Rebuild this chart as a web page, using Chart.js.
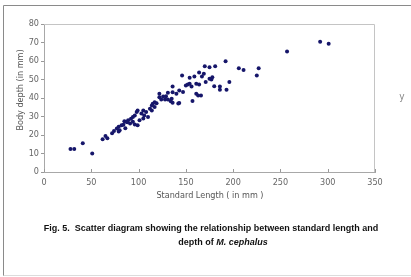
<!DOCTYPE html>
<html>
<head>
<meta charset="utf-8">
<script src="https://cdn.jsdelivr.net/npm/chart.js@4/dist/chart.umd.min.js"></script>
<style>
  html, body { margin: 0; padding: 0; background: #fff; }
  #wrap { position: relative; width: 411px; height: 277px; }
</style>
</head>
<body>
<div id="wrap"><canvas id="fishChart"></canvas></div>
<script>
// standard length (mm) and body depth (mm)
const lengthMm = [28, 32, 41, 51, 62, 65, 67, 72, 74, 79, 79, 84, 86, 88, 77, 80, 82, 85, 87, 89,
  91, 92, 94, 94, 96, 96, 98, 99, 99, 101, 103, 105, 105, 106, 108, 110, 112, 114, 114, 115,
  117, 117, 119, 122, 122, 124, 126, 128, 129, 131, 131, 134, 135, 136, 136, 136, 140, 142, 143, 143,
  146, 147, 150, 152, 154, 154, 156, 157, 159, 161, 161, 163, 164, 164, 166, 167, 169, 170, 175, 175,
  177, 178, 171, 180, 181, 186, 186, 192, 193, 196, 206, 211, 225, 227, 257, 292, 301];
const depthMm = [12.5, 12.5, 15.5, 10, 17.7, 19.4, 18.3, 20.9, 22.2, 21.9, 24.4, 25.5, 23.7, 26.9, 23.5, 22.6, 25.3, 27.4, 27.1, 28,
  26.2, 28.8, 27.1, 29.7, 30.6, 25.7, 32.4, 33.3, 25.3, 28, 31.6, 33.3, 28.9, 30.6, 32.4, 29.7, 34.2, 36, 33.3, 36.9,
  37.7, 35.1, 37.2, 40.4, 42.3, 39.2, 40.8, 39.2, 41, 42.8, 39.2, 38.3, 39.6, 46.2, 43.1, 37.5, 42.3, 37, 44.1, 37.3,
  52.1, 43.2, 46.8, 47.3, 50.9, 47.7, 46.2, 38.4, 51.6, 47.7, 42.3, 41.4, 53.8, 47.3, 41.4, 51.6, 53.1, 57.1, 56.6, 50.4,
  50, 51.2, 48.6, 46.4, 57.1, 46.2, 44.5, 59.9, 44.5, 48.6, 56.1, 55.2, 52.1, 56.1, 65.2, 70.4, 69.3];

const xTicks = [0, 50, 100, 150, 200, 250, 300, 350];
const yTicks = [0, 10, 20, 30, 40, 50, 60, 70, 80];

const captionLine1 = 'Fig. 5.  Scatter diagram showing the relationship between standard length and';
const captionLine2a = 'depth of ';
const captionLine2b = 'M. cephalus';

const points = lengthMm.map((x, i) => ({ x: x, y: depthMm[i] }));

const narrow = '"Liberation Sans Narrow", "DejaVu Sans Condensed", Arial, sans-serif';

const figurePlugin = {
  id: 'figure',
  beforeDraw(chart) {
    const ctx = chart.ctx;
    ctx.save();
    ctx.strokeStyle = '#8a8a8a';
    ctx.lineWidth = 1;
    ctx.beginPath();
    ctx.moveTo(3.5, 276);
    ctx.lineTo(3.5, 5.5);
    ctx.lineTo(411, 5.5);
    ctx.stroke();
    ctx.strokeStyle = '#dcdcdc';
    ctx.beginPath();
    ctx.moveTo(3.5, 275.5);
    ctx.lineTo(411, 275.5);
    ctx.stroke();
    ctx.restore();
  },
  afterDraw(chart) {
    const ctx = chart.ctx;
    const a = chart.chartArea;
    const xs = chart.scales.x;
    ctx.save();
    // box top / right
    ctx.strokeStyle = '#c4c4c4';
    ctx.lineWidth = 1;
    ctx.beginPath();
    ctx.moveTo(a.left, a.top + 0.5);
    ctx.lineTo(a.right - 0.5, a.top + 0.5);
    ctx.lineTo(a.right - 0.5, a.bottom);
    ctx.stroke();
    // inward x ticks
    ctx.strokeStyle = '#999';
    xTicks.forEach(v => {
      const px = Math.round(xs.getPixelForValue(v)) + 0.5;
      ctx.beginPath();
      ctx.moveTo(px, a.bottom);
      ctx.lineTo(px, a.bottom - 3);
      ctx.stroke();
    });
    // axis titles
    ctx.fillStyle = '#555';
    ctx.font = '9px ' + narrow;
    ctx.textAlign = 'center';
    ctx.textBaseline = 'middle';
    ctx.fillText('Standard Length ( in mm )', 210, 196);
    ctx.save();
    ctx.translate(21, 90);
    ctx.rotate(-Math.PI / 2);
    ctx.fillText('Body depth (in mm)', 0, 0);
    ctx.restore();
    ctx.fillStyle = '#888';
    ctx.font = '10px ' + narrow;
    ctx.fillText('y', 402, 97);
    // caption
    ctx.fillStyle = '#111';
    let size = 10;
    ctx.font = 'bold ' + size + 'px Arial, "Liberation Sans", sans-serif';
    while (ctx.measureText(captionLine1).width > 338 && size > 6) {
      size -= 0.25;
      ctx.font = 'bold ' + size + 'px Arial, "Liberation Sans", sans-serif';
    }
    ctx.fillText(captionLine1, 211, 229);
    const w1 = ctx.measureText(captionLine2a).width;
    ctx.font = 'italic bold ' + size + 'px Arial, "Liberation Sans", sans-serif';
    const w2 = ctx.measureText(captionLine2b).width;
    const start = 223 - (w1 + w2) / 2;
    ctx.textAlign = 'left';
    ctx.font = 'bold ' + size + 'px Arial, "Liberation Sans", sans-serif';
    ctx.fillText(captionLine2a, start, 243);
    ctx.font = 'italic bold ' + size + 'px Arial, "Liberation Sans", sans-serif';
    ctx.fillText(captionLine2b, start + w1, 243);
    ctx.restore();
  }
};

new Chart(document.getElementById('fishChart'), {
  type: 'scatter',
  data: {
    datasets: [{
      data: points,
      backgroundColor: '#16166a',
      borderColor: '#16166a',
      pointRadius: 2,
      pointBorderWidth: 0
    }]
  },
  options: {
    responsive: true,
    maintainAspectRatio: false,
    animation: false,
    layout: { padding: { left: 0, right: 36, top: 24, bottom: 0 } },
    plugins: {
      legend: { display: false },
      tooltip: { enabled: false }
    },
    scales: {
      x: {
        type: 'linear',
        min: 0,
        max: 350,
        afterBuildTicks: s => { s.ticks = xTicks.map(v => ({ value: v })); },
        afterFit: s => { s.height = 105; },
        grid: { display: false, drawTicks: false },
        border: { color: '#a8a8a8' },
        ticks: {
          color: '#666',
          font: { family: narrow, size: 9 },
          padding: 5,
          maxRotation: 0
        }
      },
      y: {
        type: 'linear',
        min: 0,
        max: 80,
        afterBuildTicks: s => { s.ticks = yTicks.map(v => ({ value: v })); },
        afterFit: s => { s.width = 44; },
        grid: { drawOnChartArea: false, drawTicks: true, tickLength: 3, color: '#999' },
        border: { color: '#a8a8a8' },
        ticks: {
          color: '#666',
          font: { family: narrow, size: 9 },
          padding: 2
        }
      }
    }
  },
  plugins: [figurePlugin]
});
</script>
</body>
</html>
